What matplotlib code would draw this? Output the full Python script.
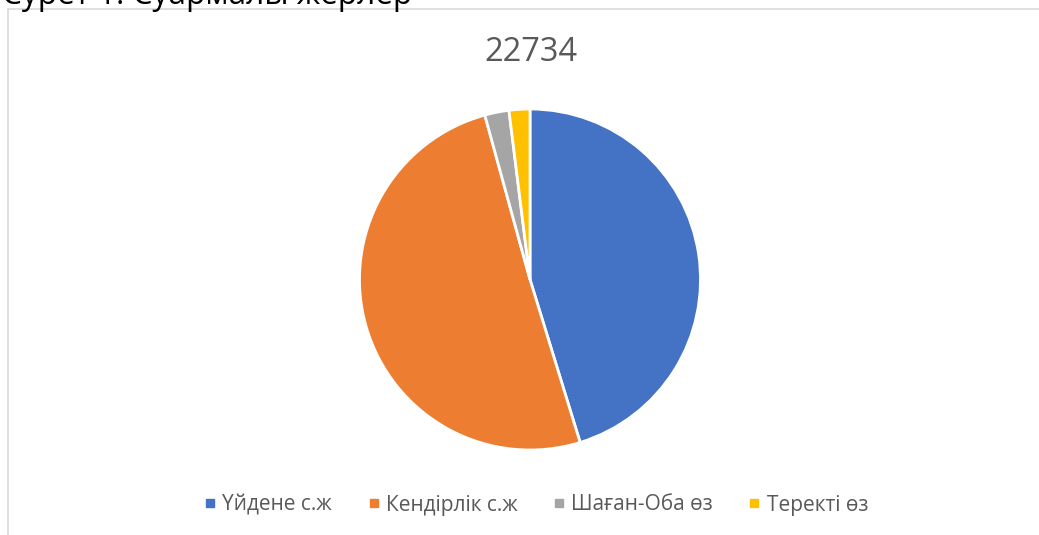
import matplotlib.pyplot as plt
from matplotlib.patches import Rectangle
from matplotlib.lines import Line2D

plt.rcParams['font.family'] = ['Open Sans', 'DejaVu Sans']

# data
labels = ['Үйдене с.ж', 'Кендірлік с.ж', 'Шаған-Оба өз', 'Теректі өз']
values = [10287, 11476, 523, 448]
colors = ['#4472C4', '#ED7D31', '#A5A5A5', '#FFC000']
title = '22734'
caption = 'Сурет 1. Суармалы жерлер'

W, H = 1039, 535
fig = plt.figure(figsize=(W / 100, H / 100), dpi=100)

# chart area border (cut off at right and bottom)
fig.patches.append(Rectangle((8 / W, -0.1), 1.2, 1 - 9 / H + 0.1,
                             transform=fig.transFigure, fill=False,
                             edgecolor='#d9d9d9', linewidth=1.2))

# caption above the chart, mostly cut off by the crop
fig.text(2 / W, 1 - 4 / H, caption, fontsize=22.8, color='black',
         ha='left', va='baseline')

cx, cy, r = 530, 279.5, 170.5
ax = fig.add_axes([(cx - r) / W, (H - cy - r) / H, 2 * r / W, 2 * r / H])
ax.pie(values, colors=colors, startangle=90, counterclock=False,
       wedgeprops=dict(edgecolor='white', linewidth=2))
ax.set_xlim(-1, 1)
ax.set_ylim(-1, 1)
ax.set_aspect('equal')
ax.axis('off')

fig.text(531 / W, 1 - 52 / H, title, fontsize=23.5, color='#595959',
         ha='center', va='center')

handles = [Line2D([], [], marker='s', linestyle='', markersize=5.8,
                  markerfacecolor=c, markeredgecolor=c) for c in colors]
fig.legend(handles, labels, loc='center', bbox_to_anchor=(536 / W, 1 - 505 / H),
           ncol=4, frameon=False, fontsize=15, labelcolor='#595959',
           handletextpad=0.28, columnspacing=1.7, handlelength=0.6)

fig.savefig('out.png', dpi=100, facecolor='white')
